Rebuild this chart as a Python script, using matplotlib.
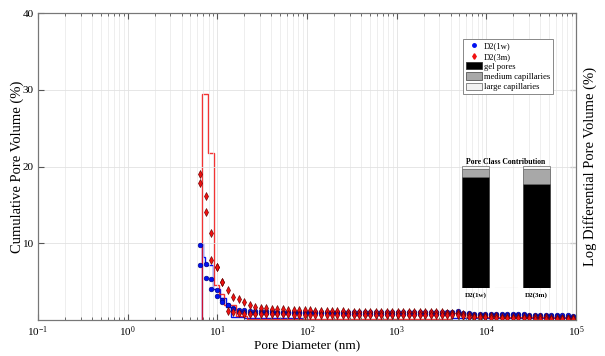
import matplotlib
matplotlib.use("Agg")
import matplotlib.pyplot as plt
from matplotlib.lines import Line2D
from matplotlib.patches import Patch
from matplotlib.ticker import LogLocator, NullFormatter, LogFormatterSciNotation

plt.rcParams['font.family'] = ['Liberation Serif', 'DejaVu Serif']
plt.rcParams['mathtext.fontset'] = 'stix'

# Pore diameters of the intrusion points (nm)
diam = [6.47, 7.45, 8.58, 9.87, 11.4, 13.1, 15.1, 17.3, 20.0, 23.0,
        26.4, 30.4, 35.0, 40.3, 46.4, 53.4, 61.5, 70.8, 81.5, 93.8,
        108, 124, 143, 165, 190, 218, 251, 289, 333, 383,
        441, 508, 585, 673, 774, 891, 1026, 1181, 1359, 1564,
        1801, 2073, 2386, 2747, 3162, 3640, 4190, 4823, 5546, 6394,
        7362, 8472, 9750, 11220, 12910, 14860, 17100, 19680, 22700, 26120,
        30060, 34590, 39810, 45810, 52720, 60670, 69820, 80540, 92680]

# Cumulative pore volume (%), two readings per diameter
d2_1w_hi = [9.8, 7.3, 5.3, 3.9, 2.6, 2.0, 1.6, 1.3, 1.25, 1.2,
            1.2, 1.15, 1.15, 1.15, 1.1, 1.1, 1.1, 1.1, 1.1, 1.1,
            1.1, 1.1, 1.1, 1.05, 1.05, 1.05, 1.05, 1.05, 1.05, 1.05,
            1.05, 1.05, 1.05, 1.05, 1.05, 1.05, 1.05, 1.05, 1.05, 1.05,
            1.05, 1.05, 1.05, 1.05, 1.0, 1.0, 1.1, 1.15, 0.95, 0.9,
            0.85, 0.85, 0.85, 0.8, 0.8, 0.8, 0.8, 0.75, 0.75, 0.75,
            0.7, 0.7, 0.7, 0.65, 0.65, 0.65, 0.6, 0.6, 0.55]
d2_1w_lo = [7.2, 5.5, 4.0, 3.1, 2.3, 1.9, 1.4, 1.1, 1.0, 0.95,
            0.9, 0.9, 0.9, 0.9, 0.9, 0.9, 0.9, 0.9, 0.9, 0.9,
            0.9, 0.9, 0.9, 0.9, 0.9, 0.9, 0.85, 0.85, 0.85, 0.85,
            0.85, 0.85, 0.85, 0.85, 0.85, 0.85, 0.85, 0.85, 0.85, 0.85,
            0.85, 0.85, 0.85, 0.85, 0.85, 0.85, 0.9, 0.95, 0.8, 0.75,
            0.7, 0.7, 0.7, 0.65, 0.65, 0.65, 0.65, 0.6, 0.6, 0.6,
            0.55, 0.55, 0.55, 0.5, 0.5, 0.5, 0.45, 0.45, 0.45]
d2_3m_hi = [19.0, 16.2, 11.3, 6.9, 5.0, 3.9, 3.0, 2.8, 2.4, 2.0,
            1.7, 1.6, 1.55, 1.5, 1.45, 1.4, 1.35, 1.3, 1.3, 1.25,
            1.25, 1.2, 1.2, 1.2, 1.15, 1.15, 1.15, 1.1, 1.1, 1.1,
            1.1, 1.1, 1.1, 1.05, 1.05, 1.05, 1.05, 1.05, 1.05, 1.0,
            1.0, 1.0, 1.0, 1.0, 1.0, 0.95, 0.95, 0.95, 0.75, 0.6,
            0.55, 0.55, 0.5, 0.5, 0.5, 0.45, 0.45, 0.45, 0.4, 0.4,
            0.4, 0.35, 0.35, 0.35, 0.3, 0.3, 0.3, 0.25, 0.25]
d2_3m_lo = [17.8, 14.1, 7.8, 6.9, 5.0, 1.2, 1.0, 0.9, 0.85, 0.8,
            0.8, 0.75, 0.75, 0.75, 0.75, 0.75, 0.75, 0.7, 0.7, 0.7,
            0.7, 0.7, 0.7, 0.7, 0.7, 0.7, 0.7, 0.7, 0.7, 0.65,
            0.65, 0.65, 0.65, 0.65, 0.65, 0.65, 0.65, 0.65, 0.65, 0.65,
            0.65, 0.65, 0.65, 0.65, 0.65, 0.6, 0.6, 0.6, 0.5, 0.4,
            0.35, 0.35, 0.35, 0.3, 0.3, 0.3, 0.3, 0.25, 0.25, 0.25,
            0.25, 0.2, 0.2, 0.2, 0.2, 0.15, 0.15, 0.15, 0.15]

# Log differential pore volume (%), histogram bins
edges_1w = [6.81, 6.95, 7.36, 9.03, 10.8, 12.6, 14.3, 19.95, 88.0, 4084, 100000]
ldv_1w = [10.0, 8.2, 7.2, 4.0, 2.9, 1.7, 0.4, 0.22, 0.05, 0.3]
edges_3m = [6.81, 7.94, 9.26, 10.5, 11.96, 16.3, 21.5, 4084, 5995, 100000]
ldv_3m = [29.4, 21.7, 4.6, 3.4, 1.95, 0.5, 0.13, 0.9, 0.35]

# Pore class contribution (%)
samples = ['D2(1w)', 'D2(3m)']
gel_pores = [91.0, 85.0]
medium_caps = [6.5, 12.5]
large_caps = [2.5, 2.5]

x_major = [0.1, 1, 10, 100, 1000, 10000, 100000]

blue = '#0010f0'
red = '#f01010'

fig = plt.figure(figsize=(6.05, 3.56), dpi=100)
ax = fig.add_axes([0.0628, 0.101, 0.8893, 0.8624])
ax2 = ax.twinx()
ax.set_zorder(ax2.get_zorder() + 1)
ax.patch.set_visible(False)

ax.set_xscale('log')
ax.set_xlim(0.1, 1e5)
ax.set_ylim(0, 40)
ax2.set_ylim(0, 40)

ax.set_xticks(x_major)
ax.xaxis.set_major_formatter(LogFormatterSciNotation())
ax.xaxis.set_minor_locator(LogLocator(base=10, subs=range(2, 10), numticks=100))
ax.xaxis.set_minor_formatter(NullFormatter())
ax.set_yticks([10, 20, 30, 40])
ax.grid(which='major', axis='both', color='#e2e2e2', lw=0.6)
ax.grid(which='minor', axis='x', color='#e8e8e8', lw=0.5)
ax.set_axisbelow(True)
ax.tick_params(which='both', direction='in', top=True, labelsize=8,
               color='#555555', pad=3)
ax.tick_params(which='major', length=4)
ax.tick_params(which='minor', length=2.5)
for s in ax.spines.values():
    s.set_color('#777777')
for s in ax2.spines.values():
    s.set_color('#777777')

ax2.set_yticks([10, 20, 30, 40])
ax2.set_yticklabels([])
ax2.tick_params(direction='in', length=4, color='#555555', pad=0)

# histogram of log differential volume on the right axis
ax2.stairs(ldv_1w, edges_1w, color=blue, lw=1.0, baseline=0)
ax2.stairs(ldv_3m, edges_3m, color=red, lw=1.0, baseline=0, alpha=0.85)

# cumulative volume markers
for vals in (d2_1w_hi, d2_1w_lo):
    ax.plot(diam, vals, ls='none', marker='o', ms=3.4, mfc=blue,
            mec='#00007a', mew=0.4)
for vals in (d2_3m_hi, d2_3m_lo):
    ax.plot(diam, vals, ls='none', marker='d', ms=3.8, mfc=red,
            mec='#6a0000', mew=0.45)

ax.set_xlabel('Pore Diameter (nm)', fontsize=9.5, labelpad=1)
ax.set_ylabel('Cumulative Pore Volume (%)', fontsize=10.5, labelpad=-1)
ax2.set_ylabel('Log Differential Pore Volume (%)', fontsize=10.5,
               labelpad=5)

handles = [
    Line2D([], [], ls='none', marker='o', ms=2.5, mfc=blue, mec=blue),
    Line2D([], [], ls='none', marker='d', ms=2.8, mfc=red, mec=red),
    Patch(facecolor='black', edgecolor='#333333', lw=0.6),
    Patch(facecolor='#a8a8a8', edgecolor='#555555', lw=0.6),
    Patch(facecolor='#f2f2f2', edgecolor='#777777', lw=0.6),
]
labels = ['D2(1w)', 'D2(3m)', 'gel pores', 'medium capillaries',
          'large capillaries']
leg = ax.legend(handles, labels, loc='upper left',
                bbox_to_anchor=(0.79, 0.915), borderaxespad=0,
                fontsize=6.2, labelspacing=0.18, handlelength=1.8,
                handleheight=0.9, handletextpad=0.3, borderpad=0.35,
                fancybox=False, framealpha=1, edgecolor='#888888')
leg.get_frame().set_linewidth(0.7)

# inset: stacked pore class contribution
axi = fig.add_axes([0.7355, 0.191, 0.2017, 0.3427])
axi.set_zorder(ax.get_zorder() + 1)
axi.patch.set_visible(False)
xpos = [0, 1]
bw = 0.44
axi.bar(xpos, gel_pores, bw, color='black', edgecolor='#333333', lw=0.5)
bot2 = [g for g in gel_pores]
axi.bar(xpos, medium_caps, bw, bottom=bot2, color='#a8a8a8',
        edgecolor='#555555', lw=0.5)
bot3 = [g + m for g, m in zip(gel_pores, medium_caps)]
axi.bar(xpos, large_caps, bw, bottom=bot3, color='#f5f5f5',
        edgecolor='#666666', lw=0.5)
axi.set_xlim(-0.5, 1.5)
axi.set_ylim(0, 100)
axi.axhline(0, xmin=0.41, xmax=0.59, color='#bbbbbb', lw=0.8)
for s in axi.spines.values():
    s.set_visible(False)
axi.set_yticks([])
axi.set_xticks(xpos)
axi.set_xticklabels(samples, fontsize=5, fontweight='bold')
axi.tick_params(axis='x', length=0, pad=3)
axi.set_title('Pore Class Contribution', fontsize=5.5, fontweight='bold',
              pad=1.5)

fig.savefig('out.png', dpi=100)
